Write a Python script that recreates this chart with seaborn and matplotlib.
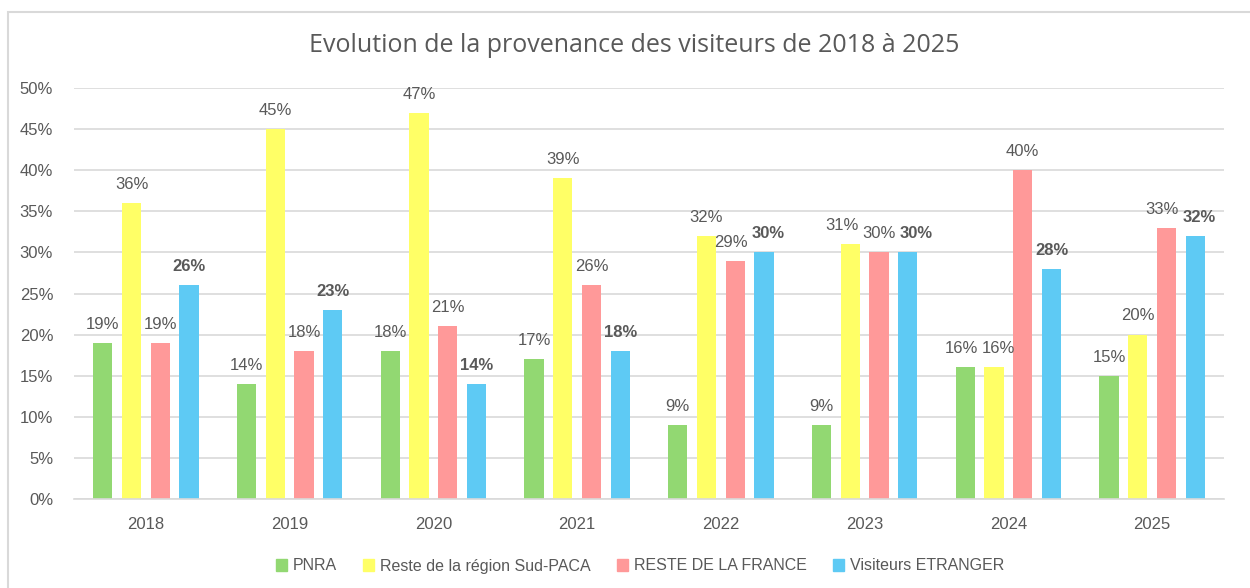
import numpy as np
import pandas as pd
import matplotlib
matplotlib.use("Agg")
import matplotlib.pyplot as plt
import matplotlib.patches as mpatches
from matplotlib.ticker import PercentFormatter, MultipleLocator
import seaborn as sns

years = ['2018', '2019', '2020', '2021', '2022', '2023', '2024', '2025']
series = ['PNRA', 'Reste de la région Sud-PACA', 'RESTE DE LA FRANCE', 'Visiteurs ETRANGER']
pnra = [19, 14, 18, 17, 9, 9, 16, 15]
sud_paca = [36, 45, 47, 39, 32, 31, 16, 20]
reste_france = [19, 18, 21, 26, 29, 30, 40, 33]
etranger = [26, 23, 14, 18, 30, 30, 28, 32]
colors = ['#92D872', '#FFFF66', '#FF9999', '#5ECAF4']

df = pd.DataFrame({
    'annee': years * 4,
    'serie': sum([[s] * len(years) for s in series], []),
    'valeur': pnra + sud_paca + reste_france + etranger,
})

sns.set_style('white')
plt.rcParams['font.family'] = ['Liberation Sans', 'DejaVu Sans']

fig = plt.figure(figsize=(12.5, 5.88), dpi=100)
ax = fig.add_axes([0.0592, 0.1514, 0.92, 0.6989])

sns.barplot(data=df, x='annee', y='valeur', hue='serie', order=years,
            hue_order=series, palette=colors, width=0.8, gap=0.33,
            saturation=1, linewidth=0, ax=ax, legend=False)

txt = '#595959'
all_labels = []
for i, cont in enumerate(ax.containers):
    labels = ax.bar_label(cont, fmt='%d%%', padding=8, fontsize=12, color=txt)
    if i == 3:
        for t in labels:
            t.set_fontweight('bold')
    all_labels.append(labels)

ax.set_ylim(0, 50)
ax.yaxis.set_major_locator(MultipleLocator(5))
ax.yaxis.set_major_formatter(PercentFormatter(100, decimals=0))
ax.grid(axis='y', color='#D9D9D9', linewidth=1.2)
ax.set_axisbelow(True)
for s in ['top', 'right', 'left']:
    ax.spines[s].set_visible(False)
ax.spines['bottom'].set_color('#D9D9D9')
ax.spines['bottom'].set_linewidth(1.2)
ax.tick_params(axis='both', length=0, labelsize=12, labelcolor=txt)
ax.tick_params(axis='y', pad=15)
ax.tick_params(axis='x', pad=13)
ax.set_xlabel('')
ax.set_ylabel('')
ax.set_xlim(-0.5, 7.5)

# écarter les étiquettes qui se chevauchent (comme Excel)
fig.canvas.draw()
renderer = fig.canvas.get_renderer()
margin = 4
for g in range(len(years)):
    grp = [all_labels[s][g] for s in range(len(series))]
    for _ in range(4):
        for a, b in zip(grp[:-1], grp[1:]):
            ba = a.get_window_extent(renderer)
            bb = b.get_window_extent(renderer)
            if ba.y1 > bb.y0 and bb.y1 > ba.y0:
                ov = ba.x1 + margin - bb.x0
                if ov > 0:
                    d = ov / 2 * 72 / fig.dpi
                    a.xyann = (a.xyann[0] - d, a.xyann[1])
                    b.xyann = (b.xyann[0] + d, b.xyann[1])

fig.text(0.507, 1 - 46 / 588, 'Evolution de la provenance des visiteurs de 2018 à 2025',
         ha='center', va='center', fontsize=18, color=txt,
         family=['Open Sans', 'DejaVu Sans'])

handles = [mpatches.Patch(color=c) for c in colors]
fig.legend(handles, series, loc='center', bbox_to_anchor=(0.512, 1 - 566 / 588),
           ncol=4, frameon=False, fontsize=11.5, handlelength=0.7, handleheight=0.7,
           handletextpad=0.4, columnspacing=1.6, labelcolor=txt)

# cadre du graphique
frame = mpatches.Rectangle((8 / 1250, -0.1), 1.2, 1 - 12 / 588 + 0.1,
                           transform=fig.transFigure, fill=False,
                           edgecolor='#D9D9D9', linewidth=1.5, clip_on=False)
fig.patches.append(frame)

fig.savefig('out.png', dpi=100)
